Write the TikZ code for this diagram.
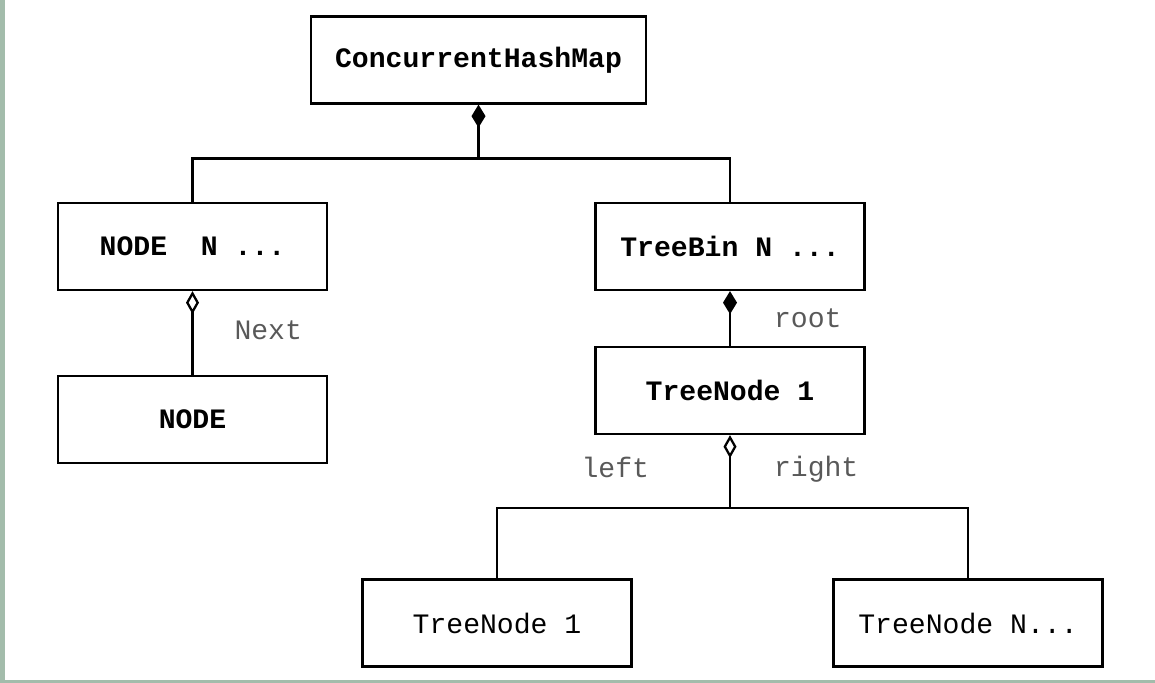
\documentclass[tikz,border=0pt]{standalone}
\usepackage{fontspec}
\setmonofont{Liberation Mono}
\usetikzlibrary{positioning, arrows.meta}
\definecolor{strip}{HTML}{A3BCAB}

\begin{document}
\begin{tikzpicture}[on grid,
		box/.style={draw, line width=1.3pt, minimum width=5.38cm, minimum height=1.74cm,
			font=\ttfamily\bfseries\fontsize{16}{19}\selectfont},
		plainbox/.style={box, font=\ttfamily\fontsize{16}{19}\selectfont},
		role/.style={text=black!65, font=\ttfamily\fontsize{16}{19}\selectfont},
		link/.style={line width=1.3pt},
		owns/.style={link, {Diamond[length=0.46cm,width=0.28cm]}-},
		holds/.style={link, {Diamond[open,length=0.46cm,width=0.26cm]}-}]
	\useasboundingbox (0,0) rectangle (23.1,-13.66);
	\fill[strip] (0,0) rectangle (0.1,-13.66);
	\fill[strip] (0,-13.6) rectangle (23.1,-13.66);

	\node[box, minimum width=6.7cm] (chm) at (9.57,-1.2) {ConcurrentHashMap};
	\node[box] (nodeN) [below left=3.73cm and 5.72cm of chm]  {NODE\ \ N ...};
	\node[box] (bin)   [below right=3.73cm and 5.03cm of chm] {TreeBin N ...};
	\node[box] (node)  [below=3.46cm of nodeN]                {NODE};
	\node[box] (tn1)   [below=2.88cm of bin]                  {TreeNode 1};
	\node[plainbox] (tnl) [below left=4.65cm and 4.66cm of tn1]  {TreeNode 1};
	\node[plainbox] (tnr) [below right=4.65cm and 4.76cm of tn1] {TreeNode N...};

	\coordinate[below=1.08cm of chm.south] (fork);
	\coordinate[below=1.46cm of tn1.south] (split);

	% map holds the bins
	\draw[owns] (chm.south) -- (fork);
	\draw[link] (nodeN.north) |- (fork) -| (bin.north);
	% list and tree links
	\draw[holds] (nodeN.south) -- (node.north) node[role, midway, right=0.7cm, yshift=0.06cm] {Next};
	\draw[owns] (bin.south) -- (tn1.north) node[role, midway, right=0.74cm] {root};
	\draw[holds] (tn1.south) -- (split)
		node[role, midway, left=1.48cm, yshift=0.08cm] {left}
		node[role, midway, right=0.74cm, yshift=0.04cm] {right};
	\draw[link] (tnl.north) |- (split) -| (tnr.north);
\end{tikzpicture}
\end{document}
